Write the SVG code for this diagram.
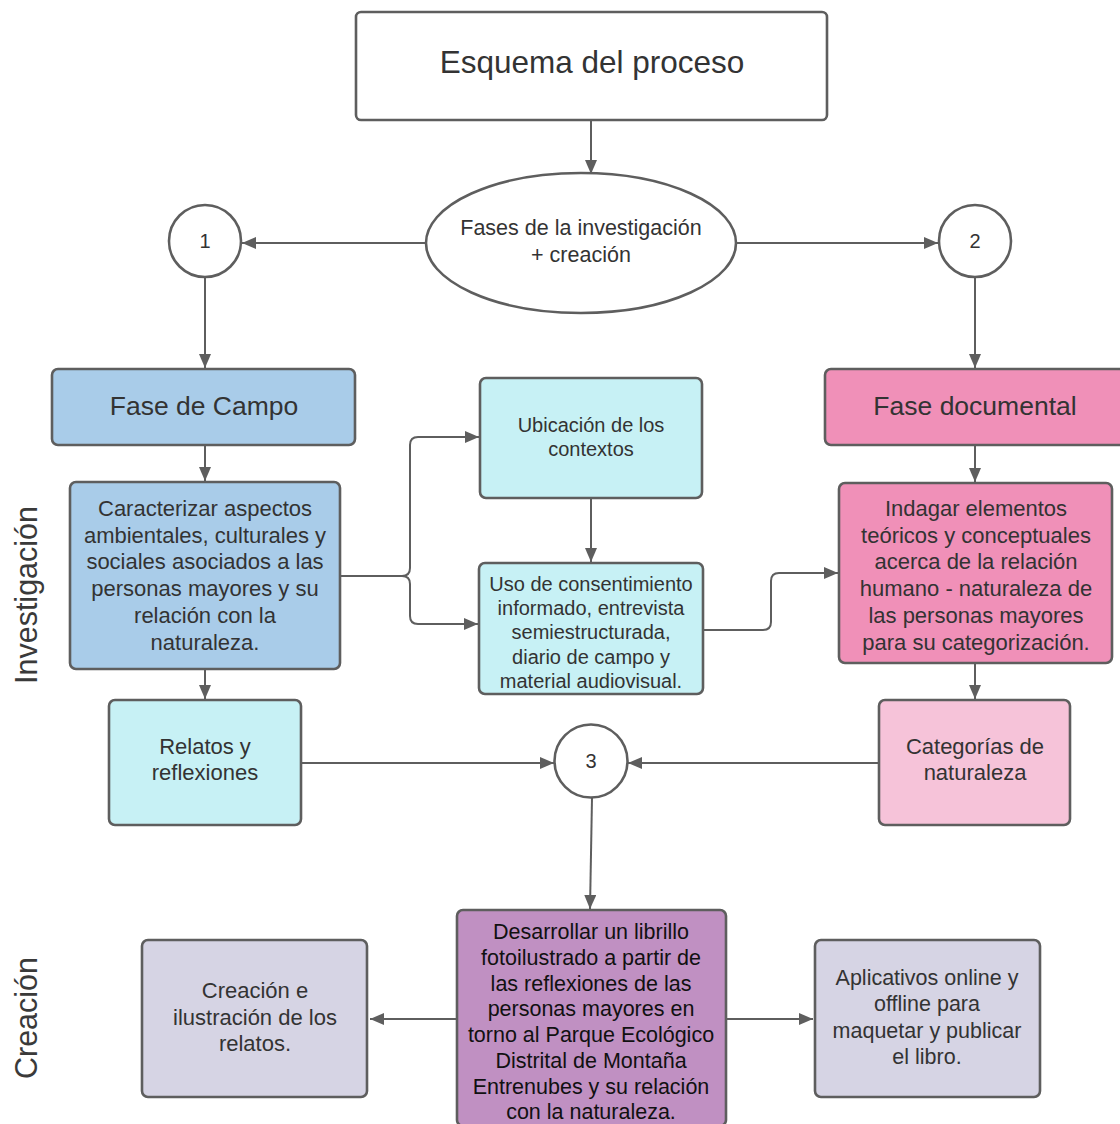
<svg xmlns="http://www.w3.org/2000/svg" width="1120" height="1124" viewBox="0 0 1120 1124">
<defs>
<marker id="arr" viewBox="0 0 14 12" refX="14" refY="6" markerWidth="14" markerHeight="12" markerUnits="userSpaceOnUse" orient="auto">
<path d="M0,0 L14,6 L0,12 Z" fill="#5e5e5e"/>
</marker>
<style>
.box{stroke:#5e5e5e;stroke-width:2.6}
.blue{fill:#a9cce9}
.cyan{fill:#c7f1f5}
.pink{fill:#f090b8}
.lpink{fill:#f6c3d9}
.purple{fill:#c090c2}
.lav{fill:#d6d4e4}
.white{fill:#ffffff}
.con{fill:none;stroke:#5e5e5e;stroke-width:2;marker-end:url(#arr)}
.line{fill:none;stroke:#5e5e5e;stroke-width:2}
text{font-family:"Liberation Sans",Arial,sans-serif;fill:#333;text-anchor:middle}
.t22{font-size:22px}
.t20{font-size:20px}
.t21{font-size:21.5px}
.t26{font-size:26.5px}
.side{font-size:30.5px;fill:#3a3a3a}
.dark{fill:#111}
</style>
</defs>
<rect width="1120" height="1124" fill="#ffffff"/>

<g id="side-labels">
<text class="side" transform="translate(37,595) rotate(-90)">Investigación</text>
<text class="side" transform="translate(37,1018) rotate(-90)">Creación</text>
</g>

<g id="connectors">
<path class="con" d="M591,120 V174"/>
<path class="con" d="M426,243 H242"/>
<path class="con" d="M737,243 H938"/>
<path class="con" d="M205,278 V368"/>
<path class="con" d="M975,278 V368"/>
<path class="con" d="M205,446 V481"/>
<path class="con" d="M975,446 V482"/>
<path class="con" d="M340,576 H402 Q410,576 410,568 V445 Q410,437 418,437 H479"/>
<path class="con" d="M340,576 H402 Q410,576 410,584 V616 Q410,624 418,624 H478"/>
<path class="con" d="M591,499 V562"/>
<path class="con" d="M703,630 H763 Q771,630 771,622 V581 Q771,573 779,573 H838"/>
<path class="con" d="M205,670 V699"/>
<path class="con" d="M975,664 V699"/>
<path class="con" d="M301,763 H554"/>
<path class="con" d="M879,763 H628"/>
<path class="con" d="M592,798 L590,909"/>
<path class="con" d="M457,1019 H370"/>
<path class="con" d="M726,1019 H813"/>
</g>

<g id="n-esquema">
<rect class="box white" x="356" y="12" width="471" height="108" rx="5"/>
<text style="font-size:31.5px" x="592" y="73">Esquema del proceso</text>
</g>

<g id="n-fases">
<ellipse class="box white" cx="581" cy="243" rx="155" ry="70"/>
<text class="t21" x="581" y="235">Fases de la investigación</text>
<text class="t21" x="581" y="262">+ creación</text>
</g>

<g id="n-1">
<circle class="box white" cx="205" cy="241" r="36"/>
<text class="t20" x="205" y="248">1</text>
</g>

<g id="n-2">
<circle class="box white" cx="975" cy="241" r="36"/>
<text class="t20" x="975" y="248">2</text>
</g>

<g id="n-campo">
<rect class="box blue" x="52" y="369" width="303" height="76" rx="6"/>
<text class="t26" x="204" y="415">Fase de Campo</text>
</g>

<g id="n-documental">
<rect class="box pink" x="825" y="369" width="310" height="76" rx="6"/>
<text class="t26" x="975" y="415">Fase documental</text>
</g>

<g id="n-caracterizar">
<rect class="box blue" x="70" y="482" width="270" height="187" rx="6"/>
<text class="t22" x="205" y="516">Caracterizar aspectos</text>
<text class="t22" x="205" y="543">ambientales, culturales y</text>
<text class="t22" x="205" y="569">sociales asociados a las</text>
<text class="t22" x="205" y="596">personas mayores y su</text>
<text class="t22" x="205" y="623">relación con la</text>
<text class="t22" x="205" y="650">naturaleza.</text>
</g>

<g id="n-ubicacion">
<rect class="box cyan" x="480" y="378" width="222" height="120" rx="6"/>
<text class="t20" x="591" y="432">Ubicación de los</text>
<text class="t20" x="591" y="456">contextos</text>
</g>

<g id="n-uso">
<rect class="box cyan" x="479" y="563" width="224" height="131" rx="6"/>
<text class="t20" x="591" y="591">Uso de consentimiento</text>
<text class="t20" x="591" y="615">informado, entrevista</text>
<text class="t20" x="591" y="639">semiestructurada,</text>
<text class="t20" x="591" y="664">diario de campo y</text>
<text class="t20" x="591" y="688">material audiovisual.</text>
</g>

<g id="n-indagar">
<rect class="box pink" x="839" y="483" width="273" height="180" rx="6"/>
<text class="t22" x="976" y="516">Indagar elementos</text>
<text class="t22" x="976" y="543">teóricos y conceptuales</text>
<text class="t22" x="976" y="569">acerca de la relación</text>
<text class="t22" x="976" y="596">humano - naturaleza de</text>
<text class="t22" x="976" y="623">las personas mayores</text>
<text class="t22" x="976" y="650">para su categorización.</text>
</g>

<g id="n-relatos">
<rect class="box cyan" x="109" y="700" width="192" height="125" rx="6"/>
<text class="t22" x="205" y="754">Relatos y</text>
<text class="t22" x="205" y="780">reflexiones</text>
</g>

<g id="n-categorias">
<rect class="box lpink" x="879" y="700" width="191" height="125" rx="6"/>
<text class="t22" x="975" y="754">Categorías de</text>
<text class="t22" x="975" y="780">naturaleza</text>
</g>

<g id="n-3">
<circle class="box white" cx="591" cy="761" r="36.5"/>
<text class="t20" x="591" y="768">3</text>
</g>

<g id="n-desarrollar">
<rect class="box purple" x="457" y="910" width="269" height="216" rx="6"/>
<text class="t21 dark" x="591" y="939">Desarrollar un librillo</text>
<text class="t21 dark" x="591" y="965">fotoilustrado a partir de</text>
<text class="t21 dark" x="591" y="991">las reflexiones de las</text>
<text class="t21 dark" x="591" y="1016">personas mayores en</text>
<text class="t21 dark" x="591" y="1042">torno al Parque Ecológico</text>
<text class="t21 dark" x="591" y="1068">Distrital de Montaña</text>
<text class="t21 dark" x="591" y="1094">Entrenubes y su relación</text>
<text class="t21 dark" x="591" y="1119">con la naturaleza.</text>
</g>

<g id="n-creacion">
<rect class="box lav" x="142" y="940" width="225" height="157" rx="6"/>
<text class="t22" x="255" y="998">Creación e</text>
<text class="t22" x="255" y="1025">ilustración de los</text>
<text class="t22" x="255" y="1051">relatos.</text>
</g>

<g id="n-aplicativos">
<rect class="box lav" x="815" y="940" width="225" height="157" rx="6"/>
<text class="t21" x="927" y="985">Aplicativos online y</text>
<text class="t21" x="927" y="1011">offline para</text>
<text class="t21" x="927" y="1038">maquetar y publicar</text>
<text class="t21" x="927" y="1064">el libro.</text>
</g>
</svg>
